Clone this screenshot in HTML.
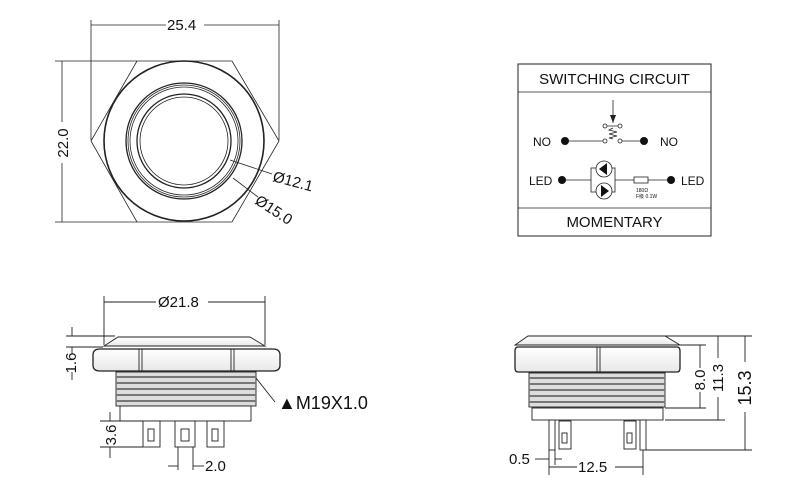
<!DOCTYPE html>
<html><head><meta charset="utf-8"><style>
html,body{margin:0;padding:0;background:#fff;}
svg{display:block;}
text{font-family:"Liberation Sans",Arial,sans-serif;fill:#111;}
</style></head><body>
<svg width="800" height="490" viewBox="0 0 800 490" xmlns="http://www.w3.org/2000/svg">
<defs>
<marker id="a" markerWidth="8" markerHeight="6" refX="8" refY="3" orient="auto-start-reverse" markerUnits="userSpaceOnUse"><path d="M0,0 L8,3 L0,6z" fill="#222"/></marker>
<linearGradient id="g" x1="0" y1="0" x2="0" y2="1"><stop offset="0" stop-color="#fff"/><stop offset="1" stop-color="#e8e8e8"/></linearGradient>
</defs>
<g stroke="#222" fill="none" stroke-width="0.8">
<!-- TOP VIEW -->
<line x1="91" y1="20" x2="91" y2="140"/><line x1="279" y1="20" x2="279" y2="140"/>
<line x1="91" y1="25" x2="166" y2="25"/><line x1="204" y1="25" x2="279" y2="25"/>
<line x1="55" y1="61" x2="137" y2="61"/><line x1="55" y1="222" x2="137" y2="222"/>
<line x1="62" y1="61" x2="62" y2="122"/><line x1="62" y1="163" x2="62" y2="222"/>
<polygon points="137,61 232,61 279,141 232,222 137,222 91,141"/>
<circle cx="184" cy="141" r="80" stroke-width="1.6"/>
<circle cx="184" cy="141" r="58" stroke-width="1.3"/>
<circle cx="184" cy="141" r="56"/>
<circle cx="184" cy="141" r="54"/>
<circle cx="184" cy="141" r="47" stroke-width="1.3"/>
<circle cx="184" cy="141" r="44"/>
<line x1="230" y1="160" x2="272" y2="174"/>
<line x1="233" y1="178" x2="258" y2="197"/>
<!-- CIRCUIT BOX -->
<rect x="518" y="64" width="193" height="172" stroke-width="1"/>
<line x1="518" y1="92" x2="711" y2="92"/>
<line x1="518" y1="208" x2="711" y2="208"/>
<line x1="613" y1="100" x2="613" y2="123" marker-end="url(#a)"/>
<circle cx="605" cy="126" r="2"/><circle cx="620" cy="126" r="2"/>
<circle cx="605" cy="141" r="2"/><circle cx="620" cy="141" r="2"/>
<path d="M607,126 L618,126 M613,128 l-4,2 l8,2 l-8,2 l8,2 l-8,2 l4,1"/>
<line x1="565" y1="141" x2="603" y2="141"/><line x1="622" y1="141" x2="644" y2="141"/>
<line x1="562" y1="180" x2="591" y2="180"/>
<rect x="591" y="168" width="24" height="24"/>
<line x1="615" y1="180" x2="634" y2="180"/>
<rect x="634" y="177" width="14" height="6"/>
<line x1="648" y1="180" x2="671" y2="180"/>
<circle cx="604" cy="169" r="8" fill="#fff"/><circle cx="604" cy="191" r="8" fill="#fff"/>
</g>
<g fill="#111">
<circle cx="565" cy="141" r="4"/><circle cx="644" cy="141" r="4"/>
<circle cx="562" cy="180" r="4"/><circle cx="671" cy="180" r="4"/>
<path d="M599,169 l8,-6 v12z"/><path d="M609,191 l-8,-6 v12z"/>
</g>
<g font-size="15">
<text x="167" y="30">25.4</text>
<text transform="translate(68,143) rotate(-90)" text-anchor="middle">22.0</text>
<text transform="translate(272,181) rotate(15)">Ø12.1</text>
<text transform="translate(254,203) rotate(33)">Ø15.0</text>
</g>
<text x="614.5" y="84" font-size="15" text-anchor="middle">SWITCHING CIRCUIT</text>
<text x="614.5" y="227" font-size="15" text-anchor="middle">MOMENTARY</text>
<text x="533" y="146" font-size="12">NO</text>
<text x="660" y="146" font-size="12">NO</text>
<text x="529" y="185" font-size="12">LED</text>
<text x="681" y="185" font-size="12">LED</text>
<text x="636" y="192" font-size="5">180Ω</text>
<text x="636" y="198" font-size="5">F级 0.1W</text>

<!-- BOTTOM LEFT -->
<g stroke="#222" fill="url(#g)" stroke-width="0.9">
<line x1="104" y1="296" x2="104" y2="345" fill="none"/><line x1="265" y1="296" x2="265" y2="345" fill="none"/>
<line x1="104" y1="302" x2="156" y2="302"/><line x1="208" y1="302" x2="265" y2="302"/>
<line x1="66" y1="336" x2="115" y2="336"/><line x1="66" y1="347" x2="103" y2="347"/>
<line x1="72" y1="327" x2="72" y2="336"/><line x1="72" y1="347" x2="72" y2="354"/><line x1="72" y1="372" x2="72" y2="380"/>
<path d="M118,337 L250,337 L265,346 L104,346Z"/>
<path d="M100,349 H273 Q280,349 280,355 V365 Q280,371 273,371 H100 Q93,371 93,365 V355 Q93,349 100,349Z" stroke-width="1.3"/>
<line x1="139" y1="349" x2="139" y2="371"/><line x1="142" y1="349" x2="142" y2="371"/>
<line x1="231" y1="349" x2="231" y2="371"/><line x1="234" y1="349" x2="234" y2="371"/>
<rect x="116" y="372" width="140" height="34" fill="#ddd"/>
<path d="M116,377 H256 M116,383 H256 M116,389 H256 M116,395 H256 M116,401 H256" fill="none" stroke="#777" stroke-width="2"/>
<rect x="120" y="406" width="131" height="15" fill="#fff"/>
<rect x="143" y="421" width="17" height="26" fill="#fff"/><rect x="148" y="429" width="6" height="12" fill="#fff"/>
<rect x="175" y="421" width="20" height="26" fill="#fff"/><rect x="181" y="429" width="8" height="12" fill="#fff"/>
<rect x="207" y="421" width="17" height="26" fill="#fff"/><rect x="212" y="429" width="6" height="12" fill="#fff"/>
<line x1="256" y1="378" x2="275" y2="402" fill="none"/>
<line x1="100" y1="421" x2="143" y2="421"/><line x1="100" y1="447" x2="143" y2="447"/>
<line x1="110" y1="412" x2="110" y2="421"/><line x1="110" y1="447" x2="110" y2="458"/>
<line x1="178" y1="447" x2="178" y2="470"/><line x1="193" y1="447" x2="193" y2="470"/>
<line x1="168" y1="466" x2="178" y2="466"/><line x1="193" y1="466" x2="204" y2="466"/>
</g>
<text x="158" y="307" font-size="15">Ø21.8</text>
<text transform="translate(76,363) rotate(-90)" text-anchor="middle" font-size="15">1.6</text>
<text transform="translate(116,435) rotate(-90)" text-anchor="middle" font-size="15">3.6</text>
<text x="205" y="471" font-size="15">2.0</text>
<text x="278" y="409" font-size="18">▲M19X1.0</text>

<!-- BOTTOM RIGHT -->
<g stroke="#222" fill="url(#g)" stroke-width="0.9">
<path d="M528,336 L665,336 L680,345 L515,345Z"/>
<path d="M518,347 H677 Q680,347 680,351 V368 Q680,372 677,372 H518 Q515,372 515,368 V351 Q515,347 518,347Z" stroke-width="1.3"/>
<line x1="597" y1="347" x2="597" y2="372"/><line x1="600" y1="347" x2="600" y2="372"/>
<rect x="529" y="373" width="136" height="34" fill="#ddd"/>
<path d="M529,378 H665 M529,384 H665 M529,390 H665 M529,396 H665 M529,402 H665" fill="none" stroke="#777" stroke-width="2"/>
<rect x="532" y="408" width="131" height="12" fill="#fff"/>
<rect x="549" y="420" width="6" height="30" fill="#fff"/><rect x="559" y="421" width="12" height="28" fill="#fff"/><rect x="562" y="433" width="5" height="10" fill="#fff"/>
<rect x="624" y="421" width="12" height="28" fill="#fff"/><rect x="627" y="433" width="5" height="10" fill="#fff"/><rect x="640" y="420" width="6" height="30" fill="#fff"/>
<line x1="665" y1="336" x2="752" y2="336" fill="none"/>
<line x1="680" y1="345" x2="706" y2="345"/><line x1="665" y1="408" x2="706" y2="408"/>
<line x1="665" y1="420" x2="725" y2="420"/><line x1="646" y1="450" x2="752" y2="450"/>
<line x1="700" y1="345" x2="700" y2="368"/><line x1="700" y1="392" x2="700" y2="408"/>
<line x1="718" y1="336" x2="718" y2="358"/><line x1="718" y1="397" x2="718" y2="420"/>
<line x1="745" y1="336" x2="745" y2="362"/><line x1="745" y1="412" x2="745" y2="450"/>
<line x1="549" y1="450" x2="549" y2="475"/><line x1="555" y1="450" x2="555" y2="465"/><line x1="643" y1="450" x2="643" y2="475"/>
<line x1="535" y1="459" x2="549" y2="459"/><line x1="555" y1="459" x2="562" y2="459"/>
<line x1="549" y1="467" x2="577" y2="467"/><line x1="615" y1="467" x2="643" y2="467"/>
</g>
<text x="509" y="464" font-size="15">0.5</text>
<text x="578" y="472" font-size="15">12.5</text>
<text transform="translate(705,380) rotate(-90)" text-anchor="middle" font-size="15">8.0</text>
<text transform="translate(723,378) rotate(-90)" text-anchor="middle" font-size="15">11.3</text>
<text transform="translate(751,388) rotate(-90)" text-anchor="middle" font-size="18">15.3</text>
</svg>
</body></html>
